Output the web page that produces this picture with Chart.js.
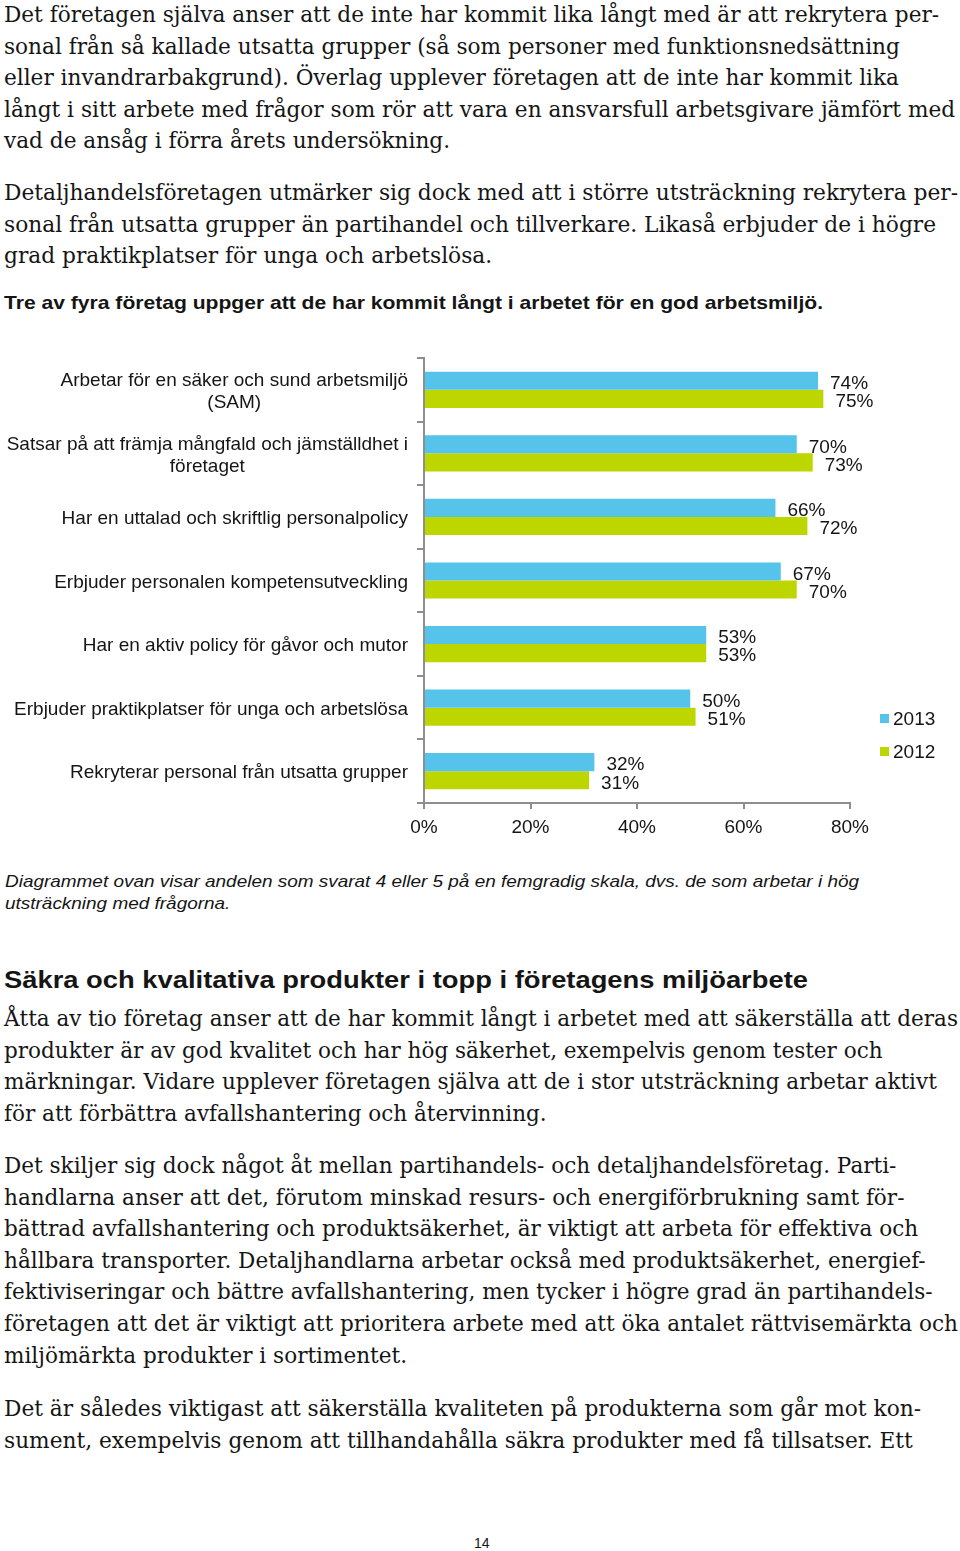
<!DOCTYPE html>
<html lang="sv">
<head>
<meta charset="UTF-8">
<title>Ansvarsfull arbetsgivare</title>
<script src="https://cdn.jsdelivr.net/npm/chart.js@4.4.0/dist/chart.umd.min.js"></script>
<style>
  body { margin: 0; width: 960px; height: 1551px; position: relative; background: #fff; color: #151515; overflow: hidden; }
  .fit { transform-origin: 0 0; }
  .body-text { position: absolute; left: 4px; font-family: "DejaVu Serif", serif; font-size: 22px; line-height: 31.6px; white-space: nowrap; }
  .lead { position: absolute; left: 4px; top: 291px; font-family: "Liberation Sans", sans-serif; font-weight: bold; font-size: 18.5px; line-height: 24px; white-space: nowrap; }
  .caption { position: absolute; left: 5px; top: 871px; font-family: "Liberation Sans", sans-serif; font-style: italic; font-size: 17px; line-height: 22px; white-space: nowrap; }
  h2 { position: absolute; left: 4px; top: 964px; margin: 0; font-family: "Liberation Sans", sans-serif; font-size: 24.5px; line-height: 32px; white-space: nowrap; }
  #chart_box { position: absolute; left: 0; top: 340px; }
  .page { position: absolute; left: 474px; top: 1535px; font-family: "Liberation Sans", sans-serif; font-size: 14px; line-height: 16px; }
</style>
</head>
<body>
  <div class="body-text fit" data-w="951" style="top:-1px">
    Det företagen själva anser att de inte har kommit lika långt med är att rekrytera per-<br>
    sonal från så kallade utsatta grupper (så som personer med funktionsnedsättning<br>
    eller invandrarbakgrund). Överlag upplever företagen att de inte har kommit lika<br>
    långt i sitt arbete med frågor som rör att vara en ansvarsfull arbetsgivare jämfört med<br>
    vad de ansåg i förra årets undersökning.
  </div>
  <div class="body-text fit" data-w="954" style="top:177px">
    Detaljhandelsföretagen utmärker sig dock med att i större utsträckning rekrytera per-<br>
    sonal från utsatta grupper än partihandel och tillverkare. Likaså erbjuder de i högre<br>
    grad praktikplatser för unga och arbetslösa.
  </div>
  <div class="lead fit" data-w="819">Tre av fyra företag uppger att de har kommit långt i arbetet för en god arbetsmiljö.</div>

  <div id="chart_box">
    <canvas id="work_chart" width="960" height="520"></canvas>
  </div>

  <div class="caption fit" data-w="854">
    Diagrammet ovan visar andelen som svarat 4 eller 5 på en femgradig skala, dvs. de som arbetar i hög<br>
    utsträckning med frågorna.
  </div>

  <h2 class="fit" data-w="804">Säkra och kvalitativa produkter i topp i företagens miljöarbete</h2>
  <div class="body-text fit" data-w="954" style="top:1003px">
    Åtta av tio företag anser att de har kommit långt i arbetet med att säkerställa att deras<br>
    produkter är av god kvalitet och har hög säkerhet, exempelvis genom tester och<br>
    märkningar. Vidare upplever företagen själva att de i stor utsträckning arbetar aktivt<br>
    för att förbättra avfallshantering och återvinning.
  </div>
  <div class="body-text fit" data-w="954" style="top:1150px">
    Det skiljer sig dock något åt mellan partihandels- och detaljhandelsföretag. Parti-<br>
    handlarna anser att det, förutom minskad resurs- och energiförbrukning samt för-<br>
    bättrad avfallshantering och produktsäkerhet, är viktigt att arbeta för effektiva och<br>
    hållbara transporter. Detaljhandlarna arbetar också med produktsäkerhet, energief-<br>
    fektiviseringar och bättre avfallshantering, men tycker i högre grad än partihandels-<br>
    företagen att det är viktigt att prioritera arbete med att öka antalet rättvisemärkta och<br>
    miljömärkta produkter i sortimentet.
  </div>
  <div class="body-text fit" data-w="917" style="top:1393px">
    Det är således viktigast att säkerställa kvaliteten på produkterna som går mot kon-<br>
    sument, exempelvis genom att tillhandahålla säkra produkter med få tillsatser. Ett
  </div>
  <div class="page">14</div>

  <script>
    const categories = [
      ['Arbetar för en säker och sund arbetsmiljö', '(SAM)'],
      ['Satsar på att främja mångfald och jämställdhet i', 'företaget'],
      ['Har en uttalad och skriftlig personalpolicy'],
      ['Erbjuder personalen kompetensutveckling'],
      ['Har en aktiv policy för gåvor och mutor'],
      ['Erbjuder praktikplatser för unga och arbetslösa'],
      ['Rekryterar personal från utsatta grupper']
    ];
    const years = ['2013', '2012'];
    const values2013 = [74, 70, 66, 67, 53, 50, 32];
    const values2012 = [75, 73, 72, 70, 53, 51, 31];
    const xTicks = [0, 20, 40, 60, 80];

    const colors = ['#55c3ea', '#bed600'];
    const axisColor = '#8e8e8e';
    const labelFont = '19px "Liberation Sans", sans-serif';

    // sträck ut textblocken så att den längsta raden får samma bredd som i förlagan
    const measure = document.createElement('canvas').getContext('2d');
    document.querySelectorAll('.fit').forEach(el => {
      const st = getComputedStyle(el);
      measure.font = `${st.fontStyle} ${st.fontWeight} ${st.fontSize} ${st.fontFamily}`;
      const lines = el.innerText.split('\n').map(s => s.trim()).filter(Boolean);
      const w = Math.max(...lines.map(l => measure.measureText(l).width));
      el.style.transform = `scaleX(${Number(el.dataset.w) / w})`;
    });

    // kategoritexter: flera rader centreras mot varandra, blocket högerställs mot axeln
    const categoryLabels = {
      id: 'categoryLabels',
      afterDraw(chart) {
        const ctx = chart.ctx;
        const y = chart.scales.y;
        const right = chart.chartArea.left - 16;
        ctx.save();
        ctx.font = labelFont;
        ctx.fillStyle = '#151515';
        ctx.textAlign = 'center';
        ctx.textBaseline = 'middle';
        categories.forEach((lines, i) => {
          const cy = y.getPixelForValue(i) + 2;
          const w = Math.max(...lines.map(l => ctx.measureText(l).width));
          lines.forEach((l, j) => {
            ctx.fillText(l, right - w / 2, cy + (j - (lines.length - 1) / 2) * 22);
          });
        });
        ctx.restore();
      }
    };

    const valueLabels = {
      id: 'valueLabels',
      afterDatasetsDraw(chart) {
        const ctx = chart.ctx;
        ctx.save();
        ctx.font = labelFont;
        ctx.fillStyle = '#151515';
        ctx.textAlign = 'left';
        ctx.textBaseline = 'middle';
        chart.data.datasets.forEach((ds, di) => {
          chart.getDatasetMeta(di).data.forEach((bar, i) => {
            ctx.fillText(ds.data[i] + '%', bar.x + 12, bar.y + 3);
          });
        });
        ctx.restore();
      }
    };

    const sideLegend = {
      id: 'sideLegend',
      afterDraw(chart) {
        const ctx = chart.ctx;
        const area = chart.chartArea;
        const x = area.right + 30;
        ctx.save();
        ctx.font = labelFont;
        ctx.textBaseline = 'middle';
        ctx.textAlign = 'left';
        chart.data.datasets.forEach((ds, i) => {
          const cy = area.top + 361 + i * 33;
          ctx.fillStyle = ds.backgroundColor;
          ctx.fillRect(x, cy - 5, 9, 9);
          ctx.fillStyle = '#151515';
          ctx.fillText(ds.label, x + 13, cy + 1);
        });
        ctx.restore();
      }
    };

    new Chart(document.getElementById('work_chart'), {
      type: 'bar',
      data: {
        labels: categories,
        datasets: [
          { label: years[0], data: values2013, backgroundColor: colors[0] },
          { label: years[1], data: values2012, backgroundColor: colors[1] }
        ]
      },
      options: {
        indexAxis: 'y',
        responsive: false,
        animation: false,
        events: [],
        categoryPercentage: 0.57,
        barPercentage: 1.0,
        layout: { padding: { left: 0, right: 110, top: 18, bottom: 0 } },
        plugins: {
          legend: { display: false },
          tooltip: { enabled: false }
        },
        scales: {
          x: {
            min: 0,
            max: 80,
            afterBuildTicks: (scale) => { scale.ticks = xTicks.map(v => ({ value: v })); },
            afterFit: (scale) => { scale.height = 57; },
            border: { color: axisColor, width: 2 },
            grid: { drawOnChartArea: false, color: axisColor, lineWidth: 2, tickLength: 6 },
            ticks: {
              color: '#151515',
              font: { family: '"Liberation Sans", sans-serif', size: 19 },
              padding: 7,
              callback: (v) => v + '%'
            }
          },
          y: {
            afterFit: (scale) => { scale.width = 424; },
            border: { color: axisColor, width: 2 },
            grid: { drawOnChartArea: false, color: axisColor, lineWidth: 2, tickLength: 7, offset: true },
            ticks: { display: false }
          }
        }
      },
      plugins: [valueLabels, categoryLabels, sideLegend]
    });
  </script>
</body>
</html>
